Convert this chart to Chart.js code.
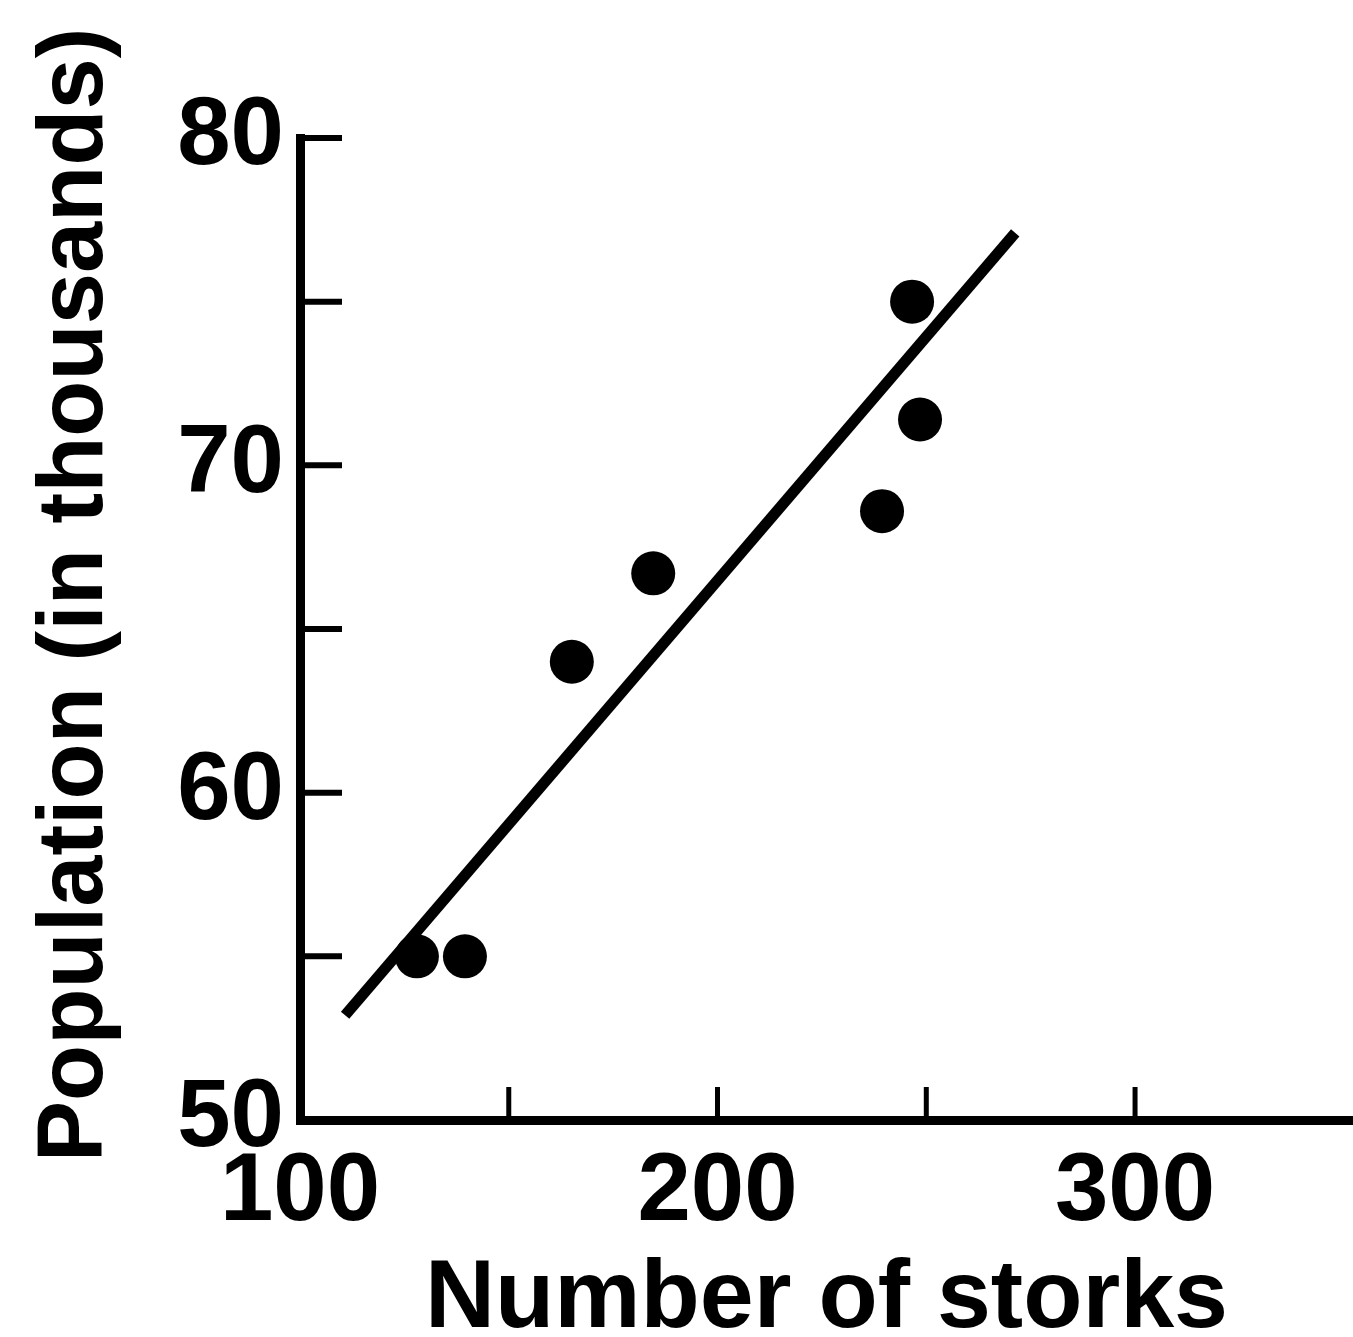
<!DOCTYPE html>
<html>
<head>
<meta charset="utf-8">
<script src="https://cdn.jsdelivr.net/npm/chart.js@4"></script>
<style>
    html, body { margin: 0; padding: 0; background: #fff; }
    #wrap { width: 1353px; height: 1337px; }
</style>
</head>
<body>
<div id="wrap"><canvas id="storkChart"></canvas></div>
<script>
// Storks vs. population
const storks = [128.0, 139.5, 165.1, 184.6, 239.4, 246.6, 248.5];
const population = [55.0, 55.0, 64.0, 66.7, 68.6, 75.0, 71.4];

// ends of the fitted line
const fitStorks = [110.8, 271.3];
const fitPopulation = [53.2, 77.1];

const xTicks = [100, 150, 200, 250, 300];
const xLabelled = [100, 200, 300];
const yTicks = [50, 55, 60, 65, 70, 75, 80];
const yLabelled = [50, 60, 70, 80];

const yTitle = 'Population (in thousands)';
const xTitle = 'Number of storks';

const fontFamily = '"Liberation Sans", Arial, Helvetica, sans-serif';
const tickFont = { family: fontFamily, size: 96, weight: 'bold' };

// tick marks point into the plot, so draw them ourselves
const innerTicks = {
    id: 'innerTicks',
    afterDraw(chart) {
        const ctx = chart.ctx;
        const x = chart.scales.x;
        const y = chart.scales.y;
        ctx.save();
        ctx.strokeStyle = '#000';
        ctx.lineWidth = 6;
        yTicks.forEach(v => {
            if (v === 50) return;
            const py = y.getPixelForValue(v);
            ctx.beginPath();
            ctx.moveTo(x.left, py);
            ctx.lineTo(x.left + 42, py);
            ctx.stroke();
        });
        ctx.lineWidth = 5;
        xTicks.forEach(v => {
            if (v === 100) return;
            const px = x.getPixelForValue(v);
            ctx.beginPath();
            ctx.moveTo(px, y.bottom);
            ctx.lineTo(px, y.bottom - 33);
            ctx.stroke();
        });

        // y title, rotated
        ctx.fillStyle = '#000';
        ctx.font = 'bold 92px ' + fontFamily;
        ctx.textAlign = 'center';
        ctx.textBaseline = 'alphabetic';
        ctx.translate(102, 595);
        ctx.rotate(-Math.PI / 2);
        ctx.fillText(yTitle, 0, 0);
        ctx.restore();
    }
};

const ctx = document.getElementById('storkChart').getContext('2d');
const chart = new Chart(ctx, {
    type: 'scatter',
    data: {
        datasets: [{
            type: 'line',
            data: fitStorks.map((v, i) => ({ x: v, y: fitPopulation[i] })),
            borderColor: '#000',
            borderWidth: 11,
            pointRadius: 0,
            fill: false,
            tension: 0
        }, {
            data: storks.map((v, i) => ({ x: v, y: population[i] })),
            backgroundColor: '#000',
            borderWidth: 0,
            pointRadius: 22,
            pointHoverRadius: 22
        }]
    },
    options: {
        responsive: true,
        maintainAspectRatio: false,
        animation: false,
        layout: { autoPadding: false, padding: { top: 138, right: 0, bottom: 0, left: 0 } },
        plugins: {
            legend: { display: false },
            tooltip: { enabled: false }
        },
        scales: {
            x: {
                type: 'linear',
                min: 100,
                max: 352.2,
                afterBuildTicks: s => { s.ticks = xTicks.map(v => ({ value: v })); },
                afterFit: s => { s.height = 217; s.paddingRight = 0; },
                grid: { display: true, drawOnChartArea: false, drawTicks: false },
                border: { display: true, color: '#000', width: 9 },
                ticks: {
                    color: '#000',
                    font: tickFont,
                    padding: 16,
                    maxRotation: 0,
                    autoSkip: false,
                    callback: v => xLabelled.includes(v) ? String(v) : ''
                },
                title: {
                    display: true,
                    text: xTitle,
                    color: '#000',
                    font: { family: fontFamily, size: 97, weight: 'bold', lineHeight: 0.9 },
                    padding: { top: 0, bottom: -7 }
                }
            },
            y: {
                min: 50,
                max: 80,
                afterBuildTicks: s => { s.ticks = yTicks.map(v => ({ value: v })); },
                afterFit: s => { s.width = 300; },
                grid: { display: true, drawOnChartArea: false, drawTicks: false },
                border: { display: true, color: '#000', width: 9 },
                ticks: {
                    color: '#000',
                    font: tickFont,
                    padding: 16,
                    autoSkip: false,
                    callback: v => yLabelled.includes(v) ? String(v) : ''
                }
            }
        }
    },
    plugins: [innerTicks]
});
</script>
</body>
</html>
